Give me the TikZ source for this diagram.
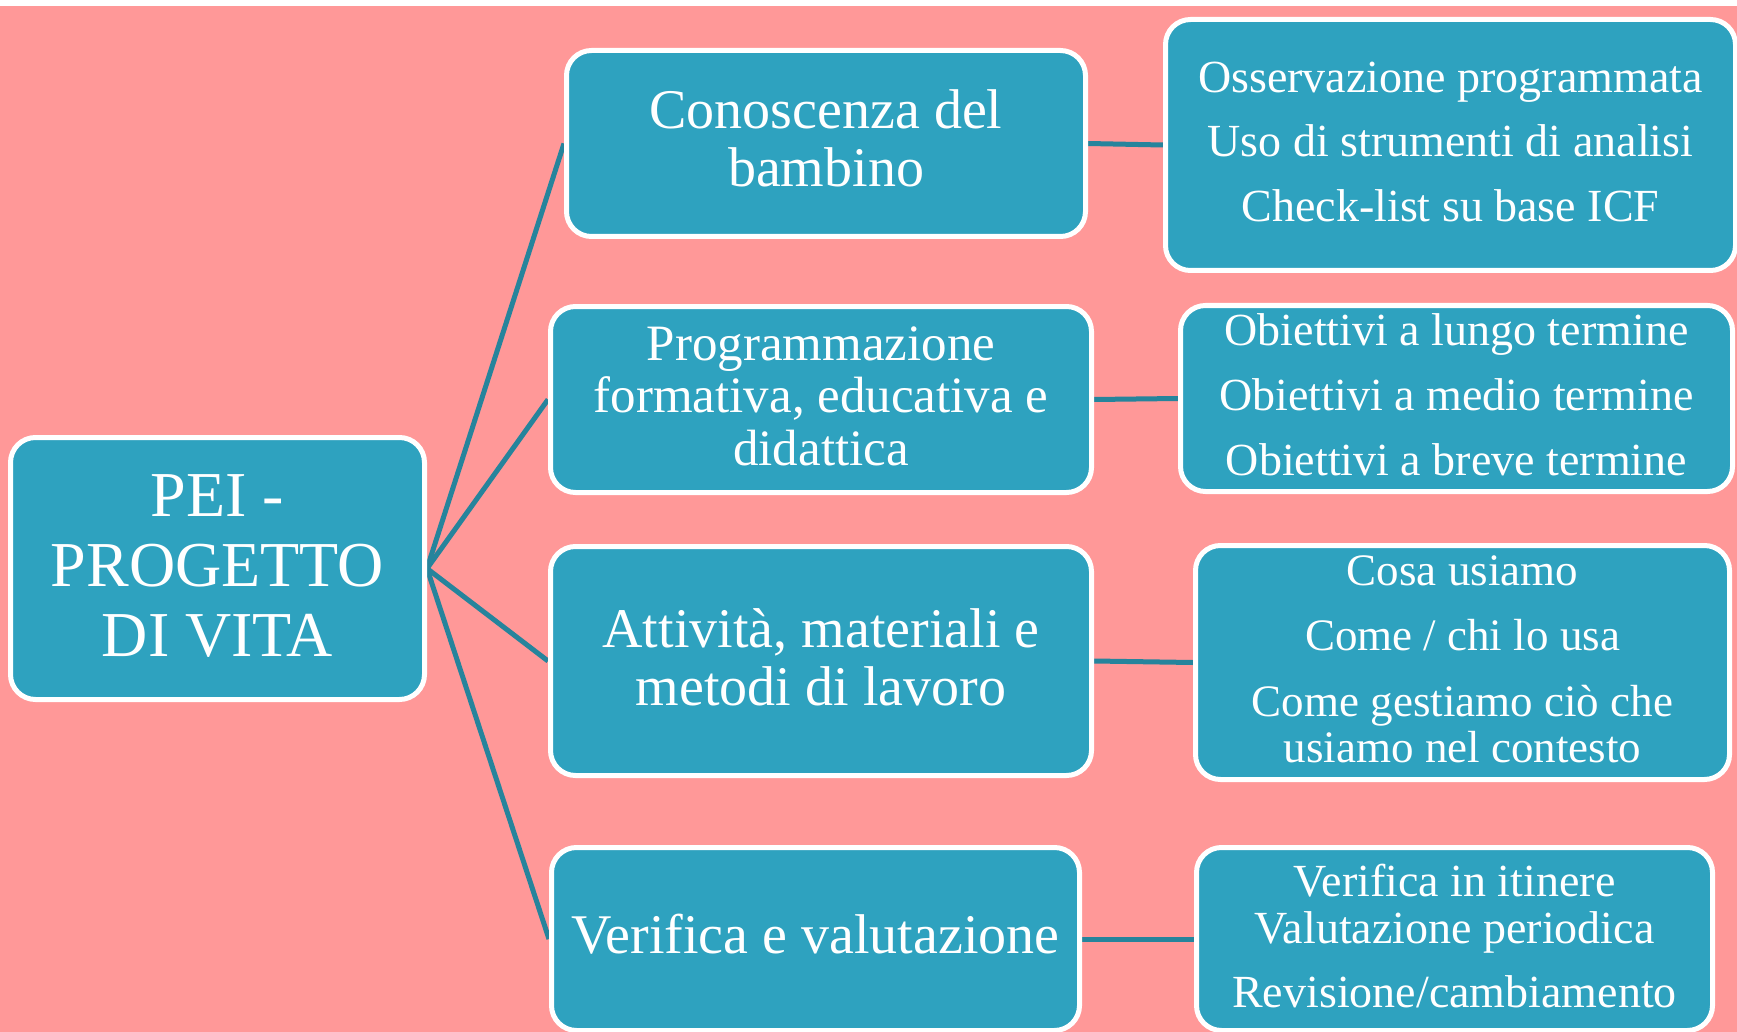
\documentclass[tikz,border=0pt]{standalone}
\usepackage{fontspec}
\setmainfont{Liberation Serif}
\definecolor{bgpink}{RGB}{255,152,152}
\definecolor{boxteal}{RGB}{46,162,191}
\definecolor{lineteal}{RGB}{38,132,156}
\pgfdeclarelayer{bg}
\pgfsetlayers{bg,main}
\begin{document}
\begin{tikzpicture}[x=1pt,y=-1pt,
  box/.style={draw=white, line width=5pt, fill=boxteal, rounded corners=25pt,
    text=white, align=center, inner sep=0pt, text depth=0pt},
  conn/.style={draw=lineteal, line width=5pt}]
\useasboundingbox (0,0) rectangle (1737,1032);
\clip (0,0) rectangle (1737,1032);
\begin{pgfonlayer}{bg}
  \fill[white] (0,0) rectangle (1737,1032);
  \fill[bgpink] (0,6) rectangle (1737,1032);
\end{pgfonlayer}
% root
\node[box, minimum width=414pt, minimum height=262pt, text height=175pt,
  font=\fontsize{64}{70}\selectfont] (root) at (217.5,568.5) {PEI -\\PROGETTO\\DI VITA};
% middle column
\node[box, minimum width=519pt, minimum height=186pt, text height=87pt,
  font=\fontsize{56}{58}\selectfont] (a) at (826,143.5) {Conoscenza del\\bambino};
\node[box, minimum width=541pt, minimum height=186pt, text height=131pt,
  font=\fontsize{51}{52.5}\selectfont] (b) at (821,399.5) {Programmazione\\formativa, educativa e\\didattica};
\node[box, minimum width=541pt, minimum height=229pt, text height=88pt,
  font=\fontsize{56}{58}\selectfont] (c) at (821,661) {Attività, materiali e\\metodi di lavoro};
\node[box, minimum width=528pt, minimum height=183pt, text height=28pt,
  font=\fontsize{56}{58}\selectfont] (d) at (815.5,939) {Verifica e valutazione};
% right column
\node[box, minimum width=570pt, minimum height=251pt, text height=154pt,
  font=\fontsize{46}{47}\selectfont] (ra) at (1450.5,145)
  {Osservazione programmata\\[17pt]Uso di strumenti di analisi\\[18pt]Check-list su base ICF};
\node[box, minimum width=552pt, minimum height=186pt, text height=153pt,
  font=\fontsize{46}{47}\selectfont] (rb) at (1456.5,398.5)
  {Obiettivi a lungo termine\\[18pt]Obiettivi a medio termine\\[18pt]Obiettivi a breve termine};
\node[box, minimum width=534pt, minimum height=234pt, text height=199pt,
  font=\fontsize{45}{46}\selectfont] (rc) at (1462.5,662.5)
  {Cosa usiamo\\[19pt]Come / chi lo usa\\[20pt]Come gestiamo ciò che\\usiamo nel contesto};
\node[box, minimum width=516pt, minimum height=183pt, text height=136pt,
  font=\fontsize{46}{47}\selectfont] (rd) at (1454.5,939)
  {Verifica in itinere\\Valutazione periodica\\[17pt]Revisione/cambiamento};
% connectors
\begin{pgfonlayer}{bg}
  \draw[conn] (root.east) -- (a.west);
  \draw[conn] (root.east) -- (b.west);
  \draw[conn] (root.east) -- (c.west);
  \draw[conn] (root.east) -- (d.west);
  \draw[conn] (a.east) -- (ra.west);
  \draw[conn] (b.east) -- (rb.west);
  \draw[conn] (c.east) -- (rc.west);
  \draw[conn] (d.east) -- (rd.west);
\end{pgfonlayer}
\end{tikzpicture}
\end{document}
